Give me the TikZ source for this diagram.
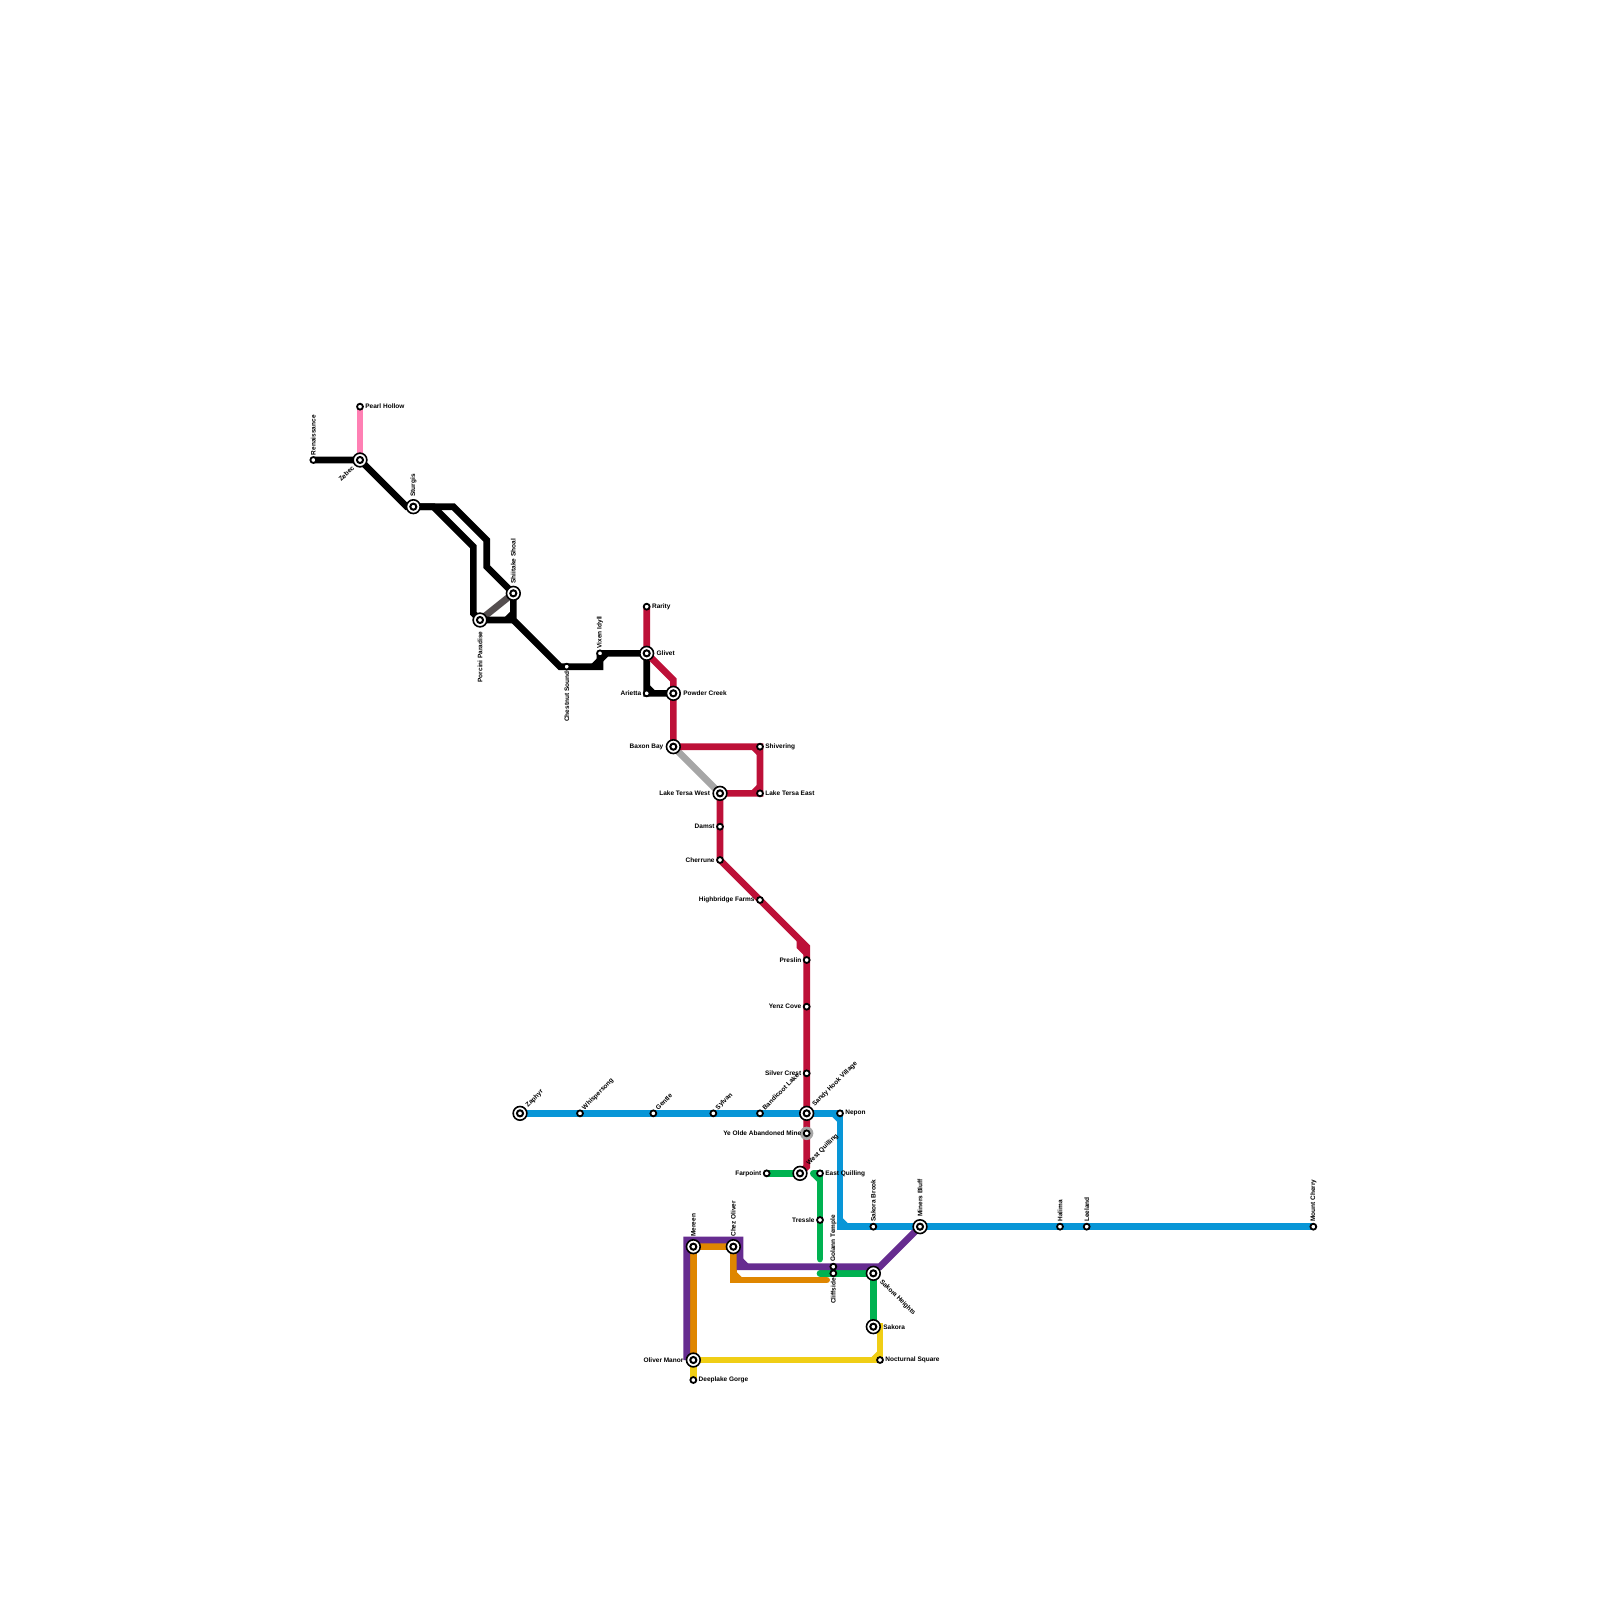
\documentclass[tikz,border=0pt]{standalone}
\usepackage{fontspec}
\setmainfont{Liberation Sans}
\pgfdeclarelayer{lines}
\pgfsetlayers{lines,main}
\definecolor{cred}{HTML}{BD1038}
\definecolor{cblue}{HTML}{0896D7}
\definecolor{cgreen}{HTML}{00B251}
\definecolor{cpurple}{HTML}{662C90}
\definecolor{corange}{HTML}{DF8600}
\definecolor{cyellow}{HTML}{F0CE15}
\definecolor{cpink}{HTML}{FF80B4}
\definecolor{csilver}{HTML}{A6A6A6}
\definecolor{cdark}{HTML}{544E4F}
\tikzset{
  stn/.style={circle,draw=black,fill=white,line width=1.8pt,minimum size=5.9pt,inner sep=0pt},
  xch/.style={circle,draw=black,fill=white,line width=1.6pt,minimum size=13.7pt,inner sep=0pt,
    path picture={\draw[black,line width=2pt] (path picture bounding box.center) circle (3.05pt);}},
  halo/.style={circle,fill=csilver,minimum size=13.4pt,inner sep=0pt},
  lbl/.style={font=\fontsize{6.5}{7}\selectfont\bfseries,text=black,inner sep=0pt,outer sep=0pt},
  route/.style={line width=6.67pt,line join=miter,line cap=butt},
  endr/.style={line width=6.67pt,line join=miter,line cap=round},
}
\newcommand{\stlabel}[6]{\node[lbl,rotate=#4,anchor=#5] (lbl-#1) at ([shift={(#2,#3)}]#1) {#6};}
\begin{document}
\begin{tikzpicture}[x=1pt,y=-1pt]
\useasboundingbox (0,0) rectangle (1600,1600);

% small stations
\foreach \n/\x/\y in {
 pearl/360/406.67, renaissance/313.33/460, chestnut/566.67/666.67, vixen/600/653.33, rarity/646.67/606.67,
 arietta/646.67/693.33, shivering/760/746.67, ltEast/760/793.33, damst/720/826.67, cherrune/720/860,
 highbridge/760/900, preslin/806.67/960, yenz/806.67/1006.67, silver/806.67/1073.33, nepon/840/1113.33,
 farpoint/766.67/1173.33, eastq/820/1173.33, tressle/820/1220, sakbrook/873.33/1226.67,
 golann/833.33/1266.67, cliffside/833.33/1273.33, nocturnal/880/1360, deeplake/693.33/1380,
 whisper/580/1113.33, gentle/653.33/1113.33, sylvan/713.33/1113.33, bandicoot/760/1113.33,
 halima/1060/1226.67, leeland/1086.67/1226.67, cherry/1313.33/1226.67}
 {\node[stn] (\n) at (\x,\y) {};}
\node[halo] (yeoldeh) at (806.67,1133.33) {};
\node[stn] (yeolde) at (806.67,1133.33) {};
% interchanges
\foreach \n/\x/\y in {
 zebec/360/460, sturgis/413.33/506.67, porcini/480/620, shiitake/513.33/593.33, glivet/646.67/653.33,
 powder/673.33/693.33, baxon/673.33/746.67, ltWest/720/793.33, sandy/806.67/1113.33, westq/800/1173.33,
 miners/920/1226.67, sakheights/873.33/1273.33, sakora/873.33/1326.67, manor/693.33/1360,
 mereen/693.33/1246.67, chez/733.33/1246.67, zaphyr/520/1113.33}
 {\node[xch] (\n) at (\x,\y) {};}

% bends
\coordinate (k0) at (406.67,506.67);
\coordinate (k1) at (453.33,506.67); \coordinate (k2) at (486.67,540); \coordinate (k3) at (486.67,566.67);
\coordinate (k4) at (433.33,506.67); \coordinate (k5) at (473.33,546.67); \coordinate (k6) at (473.33,613.33);
\coordinate (k7) at (513.33,620); \coordinate (k8) at (560,666.67); \coordinate (k9) at (600,666.67);
\coordinate (k10) at (593.33,666.67); \coordinate (k11) at (606.67,653.33);
\coordinate (k12) at (646.67,686.67); \coordinate (k13) at (653.33,693.33);
\coordinate (k15) at (513.33,613.33); \coordinate (k16) at (506.67,620);
\coordinate (r1) at (673.33,680); \coordinate (r2) at (753.33,746.67); \coordinate (r3) at (760,753.33);
\coordinate (r4) at (760,786.67); \coordinate (r5) at (753.33,793.33); \coordinate (r6) at (806.67,946.67);
\coordinate (r7) at (800,940); \coordinate (r8) at (800,946.67); \coordinate (r9) at (806.67,953.33);
\coordinate (r10) at (806.67,1166.67);
\coordinate (b1) at (840,1226.67); \coordinate (b3) at (833.33,1113.33);
\coordinate (b4) at (840,1120); \coordinate (b5) at (840,1220); \coordinate (b6) at (846.67,1226.67);
\coordinate (g1) at (813.33,1173.33); \coordinate (g2) at (820,1259); \coordinate (g3) at (820,1273.33);
\coordinate (g5) at (820,1180);
\coordinate (o1) at (733.33,1280); \coordinate (o2) at (826.67,1280); \coordinate (o3) at (733.33,1273.33); \coordinate (o4) at (740,1280);
\coordinate (p1) at (686.67,1360); \coordinate (p2) at (686.67,1240); \coordinate (p3) at (740,1240);
\coordinate (p4) at (740,1266.67); \coordinate (p5) at (880,1266.67); \coordinate (p6) at (740,1260); \coordinate (p7) at (746.67,1266.67);
\coordinate (y1) at (880,1323); \coordinate (y2) at (873.33,1360); \coordinate (y3) at (880,1353.33);

\begin{pgfonlayer}{lines}
\fill[white] (0,0) rectangle (1600,1600);
\draw[route,cpink] (pearl.center) -- (zebec.center);
\draw[route,cdark] (porcini.center) -- (shiitake.center);
\draw[route,black] (renaissance.center) -- (zebec.center) -- (k0) -- (sturgis.center) -- (k1) -- (k2) -- (k3) -- (shiitake.center) -- (k7) -- (k8) -- (chestnut.center) -- (k9) -- (vixen.center);
\draw[route,black] (sturgis.center) -- (k4) -- (k5) -- (k6) -- (porcini.center) -- (k7);
\draw[route,black] (k15) -- (k16);
\draw[route,black] (k10) -- (k11) -- (vixen.center) -- (glivet.center) -- (arietta.center) -- (powder.center);
\draw[route,black] (k12) -- (k13);
\draw[route,csilver] (baxon.center) -- (ltWest.center);
\draw[route,cred] (rarity.center) -- (glivet.center) -- (r1) -- (powder.center) -- (baxon.center) -- (shivering.center) -- (ltEast.center) -- (ltWest.center) -- (damst.center) -- (cherrune.center) -- (highbridge.center) -- (r6) -- (preslin.center) -- (yenz.center) -- (silver.center) -- (sandy.center) -- (yeolde.center) -- (r10) -- (westq.center);
\draw[route,cred] (r2) -- (r3);
\draw[route,cred] (r4) -- (r5);
\draw[route,cred] (r7) -- (r8) -- (r9);
\draw[route,cblue] (zaphyr.center) -- (sandy.center) -- (nepon.center) -- (b1) -- (miners.center) -- (cherry.center);
\draw[route,cblue] (b3) -- (b4);
\draw[route,cblue] (b5) -- (b6);
\draw[route,cgreen] (farpoint.center) -- (westq.center);
\draw[endr,cgreen] (g1) -- (eastq.center) -- (tressle.center) -- (g2);
\draw[route,cgreen] (g1) -- (g5);
\draw[endr,cgreen] (g3) -- (cliffside.center) -- (sakheights.center) -- (sakora.center);
\draw[route,corange] (manor.center) -- (mereen.center) -- (chez.center) -- (o1) -- ++(3.3,0);
\draw[endr,corange] (o1) ++(3,0) -- (o2);
\draw[route,corange] (o3) -- (o4);
\draw[route,cpurple] (p1) -- (p2) -- (p3) -- (p4) -- (p5) -- (miners.center);
\draw[route,cpurple] (p6) -- (p7);
\draw[route,cyellow] (y1) -- (nocturnal.center) -- (manor.center) -- (deeplake.center);
\draw[route,cyellow] (y2) -- (y3);
\end{pgfonlayer}

% labels
\stlabel{pearl}{5.4}{0}{0}{west}{Pearl Hollow}
\stlabel{renaissance}{0}{-5}{90}{west}{Renaissance}
\stlabel{zebec}{-7}{7}{45}{east}{Zebec}
\stlabel{sturgis}{0}{-10}{90}{west}{Sturgis}
\stlabel{shiitake}{0}{-10}{90}{west}{Shiitake Shoal}
\stlabel{porcini}{0}{11.5}{90}{east}{Porcini Paradise}
\stlabel{chestnut}{0}{5}{90}{east}{Chestnut Sound}
\stlabel{vixen}{0}{-5}{90}{west}{Vixen Idyll}
\stlabel{rarity}{5.4}{0}{0}{west}{Rarity}
\stlabel{glivet}{10}{0}{0}{west}{Glivet}
\stlabel{arietta}{-5.4}{0}{0}{east}{Arietta}
\stlabel{powder}{10}{0}{0}{west}{Powder Creek}
\stlabel{baxon}{-10}{0}{0}{east}{Baxon Bay}
\stlabel{shivering}{5.4}{0}{0}{west}{Shivering}
\stlabel{ltWest}{-10}{0}{0}{east}{Lake Tersa West}
\stlabel{ltEast}{5.4}{0}{0}{west}{Lake Tersa East}
\stlabel{damst}{-5.4}{0}{0}{east}{Damst}
\stlabel{cherrune}{-5.4}{0}{0}{east}{Cherrune}
\stlabel{highbridge}{-5.4}{0}{0}{east}{Highbridge Farms}
\stlabel{preslin}{-5.4}{0}{0}{east}{Preslin}
\stlabel{yenz}{-5.4}{0}{0}{east}{Yenz Cove}
\stlabel{silver}{-5.4}{0}{0}{east}{Silver Crest}
\stlabel{zaphyr}{7}{-7}{45}{west}{Zaphyr}
\stlabel{whisper}{3.5}{-4.5}{45}{west}{Whispersong}
\stlabel{gentle}{3.5}{-4.5}{45}{west}{Gentle}
\stlabel{sylvan}{3.5}{-4.5}{45}{west}{Sylvan}
\stlabel{bandicoot}{3.5}{-4.5}{45}{west}{Bandicoot Lake}
\stlabel{sandy}{7}{-8}{45}{west}{Sandy Hook Village}
\stlabel{nepon}{5.4}{0}{0}{west}{Nepon}
\stlabel{yeolde}{-5.4}{0}{0}{east}{Ye Olde Abandoned Mine}
\stlabel{westq}{8}{-9}{45}{west}{West Quilling}
\stlabel{farpoint}{-5.4}{0}{0}{east}{Farpoint}
\stlabel{eastq}{5.4}{0}{0}{west}{East Quilling}
\stlabel{tressle}{-5.4}{0}{0}{east}{Tressle}
\stlabel{sakbrook}{0}{-5}{90}{west}{Sakora Brook}
\stlabel{miners}{0}{-10}{90}{west}{Miners Bluff}
\stlabel{golann}{0}{-5}{90}{west}{Golann Temple}
\stlabel{cliffside}{0}{5}{90}{east}{Cliffside}
\stlabel{sakheights}{7.5}{7.5}{-45}{west}{Sakora Heights}
\stlabel{sakora}{10}{0}{0}{west}{Sakora}
\stlabel{nocturnal}{5.4}{0}{0}{west}{Nocturnal Square}
\stlabel{manor}{-10}{0}{0}{east}{Oliver Manor}
\stlabel{deeplake}{5.4}{0}{0}{west}{Deeplake Gorge}
\stlabel{mereen}{0}{-10}{90}{west}{Mereen}
\stlabel{chez}{0}{-10}{90}{west}{Chez Oliver}
\stlabel{halima}{0}{-5}{90}{west}{Halima}
\stlabel{leeland}{0}{-5}{90}{west}{Leeland}
\stlabel{cherry}{0}{-5}{90}{west}{Mount Cherry}
\end{tikzpicture}
\end{document}
